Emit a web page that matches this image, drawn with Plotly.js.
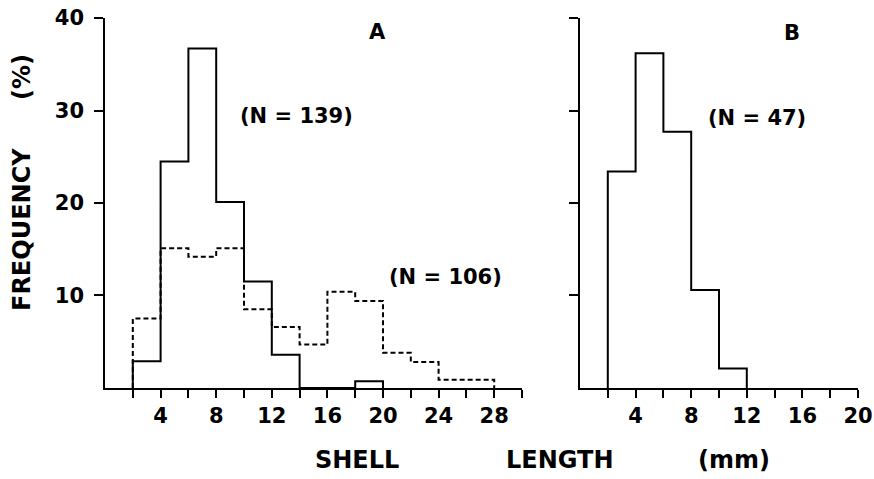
<!DOCTYPE html>
<html>
<head>
<meta charset="utf-8">
<script src="https://cdn.plot.ly/plotly-3.0.1.min.js"></script>
<style>html,body{margin:0;padding:0;background:#fff;}#chart{width:874px;height:479px;}</style>
</head>
<body>
<div id="chart"></div>
<script>
// Bin edges (mm) and frequencies (%)
const edgesA1 = [2, 4, 6, 8, 10, 12, 14, 16, 18, 20];
const freqA1 = [2.9, 24.5, 36.7, 20.1, 11.5, 3.6, 0, 0, 0.72];        // N = 139 (solid)
const edgesA2 = [2, 4, 6, 8, 10, 12, 14, 16, 18, 20, 22, 24, 26, 28];
const freqA2 = [7.5, 15.1, 14.2, 15.1, 8.5, 6.6, 4.7, 10.4, 9.4, 3.8, 2.8, 0.9, 0.9]; // N = 106 (dashed)
const edgesB = [2, 4, 6, 8, 10, 12];
const freqB = [23.4, 36.2, 27.7, 10.6, 2.1];                           // N = 47
const xTicksA = [2, 4, 6, 8, 10, 12, 14, 16, 18, 20, 22, 24, 26, 28, 30];
const xTicksB = [2, 4, 6, 8, 10, 12, 14, 16, 18, 20];
const yTicks = [10, 20, 30, 40];
const yTickText = ['10', '20', '30', '40'];

function stepXY(edges, vals) {
  const x = [edges[0]], y = [0];
  for (let i = 0; i < vals.length; i++) { x.push(edges[i]); y.push(vals[i]); }
  x.push(edges[edges.length - 1]); y.push(0);
  return {x, y};
}
const sA1 = stepXY(edgesA1, freqA1), sA2 = stepXY(edgesA2, freqA2), sB = stepXY(edgesB, freqB);
const FONT = "DejaVu Sans";
const lbl = t => t.map(v => (v % 4 === 0 ? String(v) : ''));

const traces = [
  {x: sA2.x, y: sA2.y, mode: 'lines', line: {shape: 'hv', color: '#000', width: 2, dash: '5px,3px'}, xaxis: 'x', yaxis: 'y', hoverinfo: 'skip'},
  {x: sA1.x, y: sA1.y, mode: 'lines', line: {shape: 'hv', color: '#000', width: 2}, xaxis: 'x', yaxis: 'y', hoverinfo: 'skip'},
  {x: sB.x, y: sB.y, mode: 'lines', line: {shape: 'hv', color: '#000', width: 2}, xaxis: 'x2', yaxis: 'y2', hoverinfo: 'skip'},
  {x: [null], y: [null], mode: 'lines', xaxis: 'x', yaxis: 'y3', hoverinfo: 'skip'}
];

const tf = s => ({family: FONT, size: s, color: '#000', weight: 'bold'});
const xCommon = {showgrid: false, zeroline: false, showline: true, linecolor: '#000', linewidth: 2,
  ticks: 'outside', ticklen: 8, tickwidth: 2, tickcolor: '#000', tickmode: 'array',
  tickfont: tf(21), fixedrange: true};
const yCommon = {showgrid: false, zeroline: false, showline: true, linecolor: '#000', linewidth: 2,
  ticks: 'outside', ticklen: 9, tickwidth: 2, tickcolor: '#000', tickmode: 'array', tickvals: yTicks,
  range: [0, 40], domain: [0.19, 0.9624], fixedrange: true, showticklabels: false};

const ann = (x, y, text, size, rot) => ({xref: 'paper', yref: 'paper', x: x / 874, y: 1 - y / 479,
  xanchor: 'center', yanchor: 'middle', text, showarrow: false, font: tf(size), textangle: rot || 0});

const layout = {
  width: 874, height: 479, margin: {l: 0, r: 0, t: 0, b: 0},
  paper_bgcolor: '#fff', plot_bgcolor: '#fff', showlegend: false,
  xaxis: Object.assign({}, xCommon, {domain: [105 / 874, 522 / 874], range: [0, 30], tickvals: xTicksA, ticktext: lbl(xTicksA), anchor: 'y'}),
  yaxis: Object.assign({}, yCommon, {anchor: 'x'}),
  xaxis2: Object.assign({}, xCommon, {domain: [580 / 874, 858 / 874], range: [0, 20], tickvals: xTicksB, ticktext: lbl(xTicksB), anchor: 'y2'}),
  yaxis2: Object.assign({}, yCommon, {anchor: 'x2'}),
  // label-only axis, offset to the left of the tick marks
  yaxis3: {overlaying: 'y', anchor: 'free', position: 84 / 874, side: 'left', range: [0, 40], domain: [0.19, 0.9624],
    showline: false, showgrid: false, zeroline: false, ticks: '', tickmode: 'array',
    tickvals: yTicks, ticktext: yTickText, tickfont: tf(21), fixedrange: true},
  annotations: [
    ann(377, 32, 'A', 21),
    ann(296, 116, '(N = 139)', 21),
    ann(445, 277, '(N = 106)', 21),
    ann(792, 33, 'B', 21),
    ann(757, 118, '(N = 47)', 21),
    ann(357, 460, 'SHELL', 24),
    ann(560, 460, 'LENGTH', 24),
    ann(734, 460, '(mm)', 24),
    ann(22, 230, 'FREQUENCY', 24, -90),
    ann(22, 77, '(%)', 24, -90)
  ]
};
Plotly.newPlot('chart', traces, layout, {staticPlot: true, displayModeBar: false});
</script>
</body>
</html>
